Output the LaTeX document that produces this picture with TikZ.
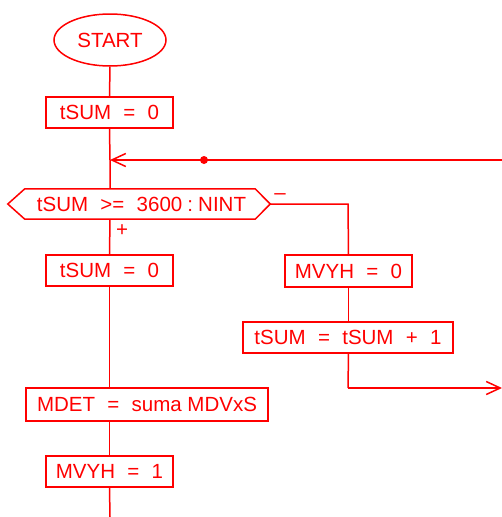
\documentclass[tikz,border=0pt]{standalone}
\usepackage{fontspec}
\setmainfont{Liberation Sans}
\usetikzlibrary{shapes.geometric,arrows.meta}
\begin{document}
\begin{tikzpicture}[x=1pt,y=-1pt,
  every node/.style={text=red,font=\fontsize{20.5}{23}\selectfont,inner sep=0pt},
  box/.style={draw=red,line width=1.5pt,rectangle,minimum height=31pt},
  line/.style={draw=red,line width=1.5pt},
  tip/.style={-{Straight Barb[length=14pt,width=13pt,line width=1.5pt]}}]
\useasboundingbox (0,0) rectangle (502,517);
\node[draw=red,line width=1.5pt,ellipse,minimum width=112pt,minimum height=52pt] (start) at (110,40) {START};
\node[box,minimum width=127pt] (b1) at (109.5,112.5) {tSUM\hspace{0.6em}=\hspace{0.6em}0};
\coordinate (j) at (110,160);
\coordinate (rin) at (502,160);
\node[minimum width=262pt,minimum height=30pt] (hex) at (139,204) {\hspace{5pt}tSUM\hspace{0.6em}>=\hspace{0.6em}3600\hspace{0.25em}:\hspace{0.25em}NINT};
\draw[line,line join=miter] (hex.west) -- ([xshift=17pt]hex.north west) -- ([xshift=-15pt]hex.north east) -- (hex.east) -- ([xshift=-15pt]hex.south east) -- ([xshift=17pt]hex.south west) -- cycle;
\node[box,minimum width=127pt] (b2) at (109.5,270.5) {tSUM\hspace{0.6em}=\hspace{0.6em}0};
\node[box,minimum width=127pt,minimum height=32pt] (b3) at (348.5,271) {MVYH\hspace{0.6em}=\hspace{0.6em}0};
\node[box,minimum width=210pt] (b4) at (348,337.5) {tSUM\hspace{0.6em}=\hspace{0.6em}tSUM\hspace{0.6em}+\hspace{0.6em}1};
\node[box,minimum width=242pt,minimum height=33pt] (b5) at (147,404.5) {MDET\hspace{0.6em}=\hspace{0.6em}suma MDVxS};
\node[box,minimum width=127pt] (b6) at (109.5,471.5) {MVYH\hspace{0.6em}=\hspace{0.6em}1};
\coordinate (bot) at (110,517);
\coordinate (rb) at (348,204);
\coordinate (rc) at (348,388);
\coordinate (rout) at (502,388);
\node (plus) at (122,231) {+};
\node (minus) at (280,197) {\textendash};
\draw[line] (start.south) -- (b1.north);
\draw[line] (b1.south) -- (j) -- (j |- hex.north);
\draw[line,tip] (rin) -- (j);
\fill[red] (204,160) circle (4pt);
\draw[line] (j |- hex.south) -- (b2.north);
\draw[line] (b2.south) -- (b2.south |- b5.north);
\draw[line] (b6.north |- b5.south) -- (b6.north);
\draw[line] (b6.south) -- (bot);
\draw[line] (hex.east) -- (rb) -- (b3.north);
\draw[line] (b3.south) -- (b3.south |- b4.north);
\draw[line] (b3.south |- b4.south) -- (rc);
\draw[line,tip] (rc) -- (rout);
\end{tikzpicture}
\end{document}
